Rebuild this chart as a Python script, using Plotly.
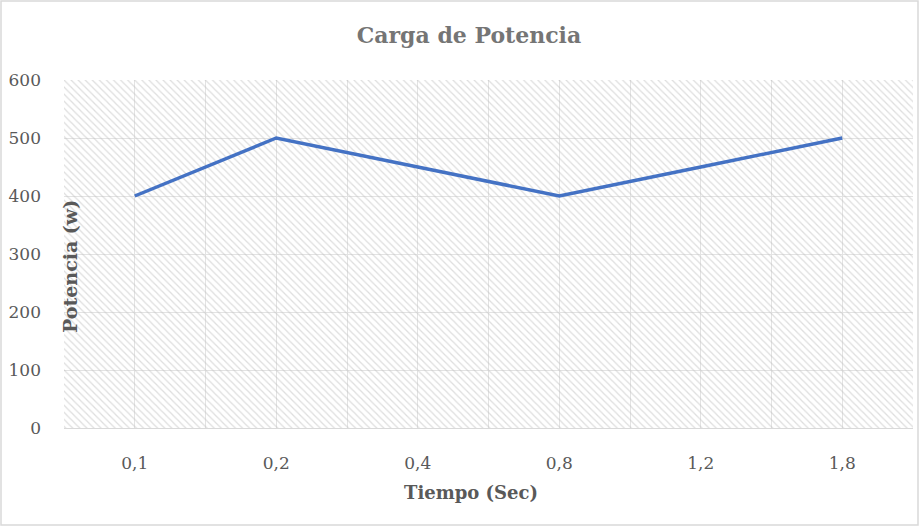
import plotly.graph_objects as go

# data
tiempo = ["0,1", "0,2", "0,4", "0,8", "1,2", "1,8"]
potencia = [400, 500, 450, 400, 450, 500]

y_ticks = [0, 100, 200, 300, 400, 500, 600]

FONT = "DejaVu Serif"
W, H = 920, 527
L, R, T, B = 64, 7, 80, 99

idx = list(range(len(tiempo)))
x_lo, x_hi = -0.5, len(tiempo) - 0.5

fig = go.Figure()

# hatched background of the plot area
fig.add_trace(go.Scatter(
    x=[x_lo, x_hi, x_hi, x_lo, x_lo],
    y=[y_ticks[0], y_ticks[0], y_ticks[-1], y_ticks[-1], y_ticks[0]],
    fill="toself", mode="none", hoverinfo="skip", showlegend=False,
    fillcolor="rgba(0,0,0,0)",
    fillpattern=dict(shape="\\", size=5, solidity=0.25,
                     fgcolor="#bdbdbd", bgcolor="rgba(0,0,0,0)"),
))

fig.add_trace(go.Scatter(
    x=idx, y=potencia, mode="lines", showlegend=False,
    line=dict(color="#4472C4", width=3.5),
))

pw = W - L - R
ph = H - T - B

fig.update_layout(
    width=W, height=H,
    margin=dict(l=L, r=R, t=T, b=B),
    paper_bgcolor="white", plot_bgcolor="white",
    font=dict(family=FONT, color="#595959", size=17),
    title=dict(text="<b>Carga de Potencia</b>", x=469 / W, xanchor="center",
               y=1 - 35 / H, yanchor="middle",
               font=dict(family=FONT, size=22, color="#757575")),
)

fig.update_xaxes(
    range=[x_lo, x_hi], tickvals=idx, ticktext=tiempo,
    showgrid=True, gridcolor="#e3e3e3", gridwidth=1,
    minor=dict(tickvals=[i - 0.5 for i in idx] + [x_hi],
               showgrid=True, gridcolor="#e3e3e3", gridwidth=1),
    showline=True, linecolor="#d9d9d9", linewidth=1,
    zeroline=False, ticks="", ticklabelstandoff=20,
    tickfont=dict(size=17, color="#595959"),
)

fig.update_yaxes(
    range=[y_ticks[0], y_ticks[-1]], tickvals=y_ticks,
    showgrid=True, gridcolor="#e3e3e3", gridwidth=1,
    zeroline=False, ticks="", ticklabelstandoff=22,
    tickfont=dict(size=17, color="#595959"),
)

# x title (a bit left of the plot centre, as in the original)
fig.add_annotation(
    text="<b>Tiempo (Sec)</b>", showarrow=False,
    xref="paper", yref="paper",
    x=(471 - L) / pw, y=(H - B - 492) / ph,
    xanchor="center", yanchor="middle",
    font=dict(family=FONT, size=18, color="#595959"),
)

# y title sits over the left edge of the plot area
fig.add_annotation(
    text="<b>Potencia (w)</b>", textangle=-90, showarrow=False,
    xref="paper", yref="paper",
    x=(70 - L) / pw, y=(H - B - 267) / ph,
    xanchor="center", yanchor="middle",
    font=dict(family=FONT, size=19, color="#595959"),
)

# chart border
fig.add_shape(
    type="rect", xref="paper", yref="paper",
    x0=(1 - L) / pw, x1=(W - 2 - L) / pw,
    y0=(H - B - (H - 2)) / ph, y1=(H - B - 1) / ph,
    line=dict(color="#d9d9d9", width=1.5), layer="below",
)

# drop the page's default body margin so the chart fills the window
fig.write_html("out.html", config={"displayModeBar": False},
               post_script="document.body.style.margin='0';")
